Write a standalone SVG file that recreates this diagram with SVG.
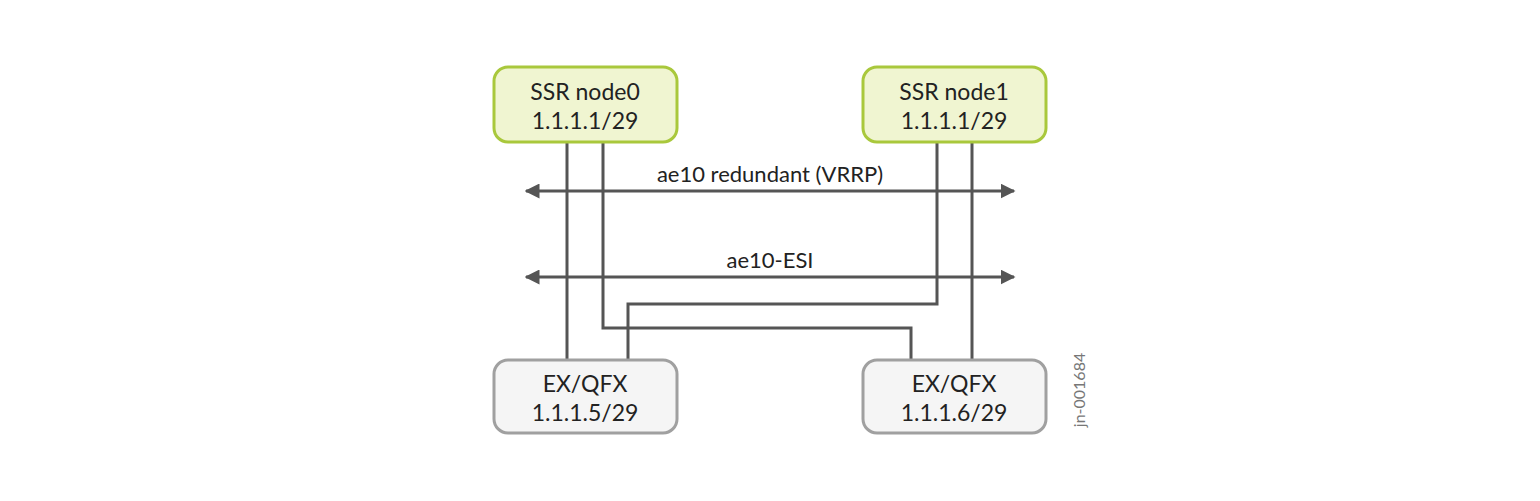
<svg xmlns="http://www.w3.org/2000/svg" width="1540" height="501" viewBox="0 0 1540 501">
<style>
text{font-family:Lato,"Liberation Sans",sans-serif;fill:#222;text-anchor:middle}
.n text{font-size:23px}
.ssr{fill:#f0f5d1;stroke:#a9c83c;stroke-width:3}
.ex{fill:#f5f5f5;stroke:#a0a0a0;stroke-width:3}
.c{fill:none;stroke:#555;stroke-width:3}
</style>
<defs>
<marker id="a" viewBox="0 0 10 10" refX="9" refY="5" markerWidth="5" markerHeight="5" orient="auto-start-reverse"><path d="M0,0L10,5L0,10z" fill="#555"/></marker>
</defs>
<rect width="1540" height="501" fill="#fff"/>
<g id="connectors">
<path class="c" d="M567,142V360"/>
<path class="c" d="M603,142V328H911V360"/>
<path class="c" d="M937,142V304H628V360"/>
<path class="c" d="M972,142V360"/>
<path class="c" d="M526,191H1014" marker-start="url(#a)" marker-end="url(#a)"/>
<path class="c" d="M526,277H1014" marker-start="url(#a)" marker-end="url(#a)"/>
<text x="770" y="182" font-size="22">ae10 redundant (VRRP)</text>
<text x="770" y="268" font-size="22">ae10-ESI</text>
</g>
<g id="node0" class="n"><rect class="ssr" x="494" y="67" width="183" height="75" rx="14"/><text x="585" y="100">SSR node0</text><text x="585" y="129">1.1.1.1/29</text></g>
<g id="node1" class="n"><rect class="ssr" x="863" y="67" width="183" height="75" rx="14"/><text x="954" y="100">SSR node1</text><text x="954" y="129">1.1.1.1/29</text></g>
<g id="ex0" class="n"><rect class="ex" x="494" y="360" width="183" height="73" rx="14"/><text x="585" y="392">EX/QFX</text><text x="585" y="421">1.1.1.5/29</text></g>
<g id="ex1" class="n"><rect class="ex" x="863" y="360" width="183" height="73" rx="14"/><text x="954" y="392">EX/QFX</text><text x="954" y="421">1.1.1.6/29</text></g>
<text transform="translate(1085,390) rotate(-90)" font-size="16" style="fill:#777">jn-001684</text>
</svg>
